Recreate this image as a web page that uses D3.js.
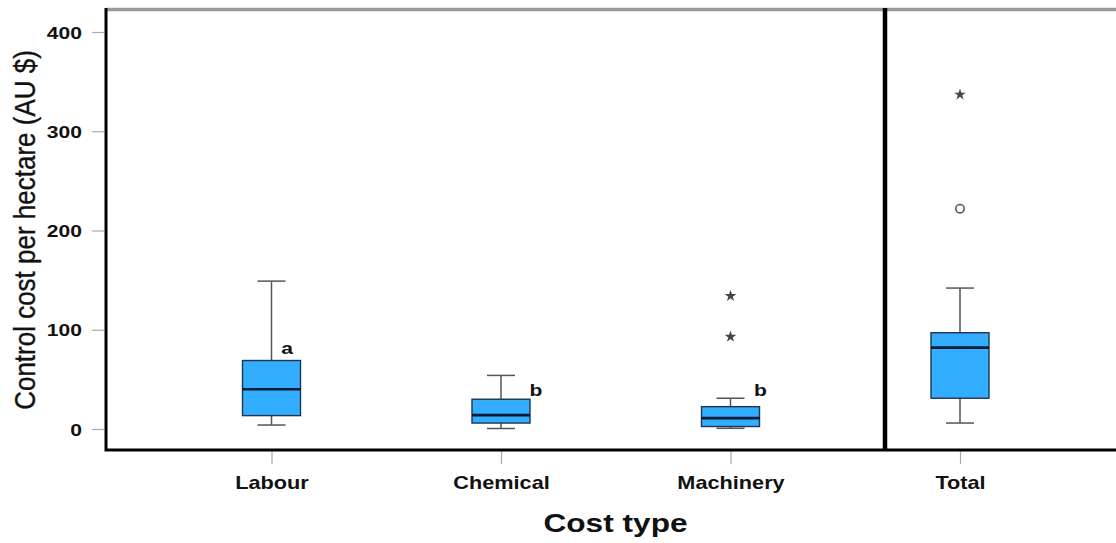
<!DOCTYPE html>
<html>
<head>
<meta charset="utf-8">
<script src="https://cdn.jsdelivr.net/npm/d3@7"></script>
<style>
  html, body { margin: 0; padding: 0; background: #fff; }
  svg { display: block; font-family: "Liberation Sans", Arial, sans-serif; }
</style>
</head>
<body>
<svg id="chart" width="1116" height="543"></svg>
<script>
// Cost categories and box-plot summaries (AU $ per hectare)
const categories = ["Labour", "Chemical", "Machinery", "Total"];
const whiskerLow  = [4, 0.5, 0.7, 6];
const quartile1   = [13.5, 6, 2.5, 31];
const medians     = [40, 14, 11, 82];
const quartile3   = [69, 30, 22.5, 97];
const whiskerHigh = [149, 54, 31, 142];
// points beyond 1.5 IQR (circles) and beyond 3 IQR (stars)
const outliers    = [[], [], [], [222]];
const extremes    = [[], [], [93, 134], [337]];
// significance letters (Total has none)
const groupLetters = ["a", "b", "b", ""];
const yTicks = [0, 100, 200, 300, 400];

const svg = d3.select("#chart");
const STRETCH = 1.24; // wide glyph proportions used for all text

const y = d3.scaleLinear().domain([0, 400]).range([429, 32]);
const x = d3.scalePoint().domain(categories).range([271.5, 960]);

const boxW = 58, capW = 28;
const plotTop = 9.5, plotBottom = 450, plotLeft = 106;

// frame: grey top border, black left and bottom axes, divider before Total
svg.append("line").attr("x1", plotLeft).attr("x2", 1116)
  .attr("y1", plotTop).attr("y2", plotTop)
  .attr("stroke", "#9a9a9a").attr("stroke-width", 3.5);

// y axis ticks and labels
const yAxis = svg.append("g").attr("transform", "translate(104,0)")
  .call(d3.axisLeft(y).tickValues(yTicks).tickSize(12).tickPadding(0));
yAxis.select(".domain").remove();
yAxis.selectAll(".tick line").attr("stroke", "#aaa").attr("stroke-width", 1.2);
yAxis.selectAll(".tick text")
  .attr("x", null).attr("dy", null)
  .attr("transform", `translate(-22,6) scale(${STRETCH},1)`)
  .attr("text-anchor", "end")
  .attr("font-size", 17).attr("font-weight", "bold").attr("fill", "#111");

// x axis ticks and labels
const xAxis = svg.append("g").attr("transform", `translate(0,${plotBottom + 1})`)
  .call(d3.axisBottom(x).tickSize(13).tickPadding(0));
xAxis.select(".domain").remove();
xAxis.selectAll(".tick line").attr("stroke", "#aaa").attr("stroke-width", 1.2);
xAxis.selectAll(".tick text")
  .attr("y", null).attr("dy", null)
  .attr("transform", `translate(0,38) scale(${STRETCH},1)`)
  .attr("text-anchor", "middle")
  .attr("font-size", 17.5).attr("font-weight", "bold").attr("fill", "#111");

// axis lines drawn over tick roots
svg.append("path")
  .attr("d", `M${plotLeft},${plotTop - 1.5}V${plotBottom}H1116`)
  .attr("fill", "none").attr("stroke", "#000").attr("stroke-width", 3);
svg.append("line")
  .attr("x1", 885).attr("x2", 885)
  .attr("y1", plotTop - 1.5).attr("y2", plotBottom)
  .attr("stroke", "#000").attr("stroke-width", 4.5);

// axis titles
svg.append("text")
  .attr("transform", "translate(35,230) rotate(-90) scale(1,1.12)")
  .attr("text-anchor", "middle")
  .attr("font-size", 26).attr("fill", "#111")
  .attr("stroke", "#111").attr("stroke-width", 0.3)
  .text("Control cost per hectare (AU $)");

svg.append("text")
  .attr("transform", `translate(615.5,532) scale(${STRETCH},1)`)
  .attr("text-anchor", "middle")
  .attr("font-size", 25.5).attr("font-weight", "bold").attr("fill", "#111")
  .text("Cost type");

// boxes
const boxes = svg.append("g").selectAll("g").data(categories).join("g")
  .attr("transform", d => `translate(${x(d)},0)`);

boxes.append("line")
  .attr("y1", (d, i) => y(whiskerHigh[i])).attr("y2", (d, i) => y(quartile3[i]))
  .attr("stroke", "#555").attr("stroke-width", 1.5);
boxes.append("line")
  .attr("y1", (d, i) => y(quartile1[i])).attr("y2", (d, i) => y(whiskerLow[i]))
  .attr("stroke", "#555").attr("stroke-width", 1.5);
boxes.append("line")
  .attr("x1", -capW / 2).attr("x2", capW / 2)
  .attr("y1", (d, i) => y(whiskerHigh[i])).attr("y2", (d, i) => y(whiskerHigh[i]))
  .attr("stroke", "#555").attr("stroke-width", 1.5);
boxes.append("line")
  .attr("x1", -capW / 2).attr("x2", capW / 2)
  .attr("y1", (d, i) => y(whiskerLow[i])).attr("y2", (d, i) => y(whiskerLow[i]))
  .attr("stroke", "#555").attr("stroke-width", 1.5);

boxes.append("rect")
  .attr("x", -boxW / 2).attr("width", boxW)
  .attr("y", (d, i) => y(quartile3[i]))
  .attr("height", (d, i) => y(quartile1[i]) - y(quartile3[i]))
  .attr("fill", "#33adff").attr("stroke", "#1f3550").attr("stroke-width", 1.4);

boxes.append("line")
  .attr("x1", -boxW / 2).attr("x2", boxW / 2)
  .attr("y1", (d, i) => y(medians[i])).attr("y2", (d, i) => y(medians[i]))
  .attr("stroke", "#0b1b30").attr("stroke-width", 2.6);

// outliers (open circles) and extremes (stars)
boxes.selectAll("circle").data((d, i) => outliers[i]).join("circle")
  .attr("cy", v => y(v)).attr("r", 4.2)
  .attr("fill", "#fff").attr("stroke", "#555").attr("stroke-width", 1.6);

const star = d3.symbol().type(d3.symbolStar).size(42);
boxes.selectAll("path.extreme").data((d, i) => extremes[i]).join("path")
  .attr("class", "extreme")
  .attr("transform", v => `translate(0,${y(v)})`)
  .attr("d", star).attr("fill", "#444");

// significance letters beside each box
const letterOffset = [{dx: 15.5, v: 76}, {dx: 35, v: 33}, {dx: 30, v: 33}, {dx: 0, v: 0}];
boxes.filter((d, i) => groupLetters[i] !== "").append("text")
  .attr("transform", (d, i) => `translate(${letterOffset[i].dx},${y(letterOffset[i].v)}) scale(${STRETCH},1)`)
  .attr("text-anchor", "middle")
  .attr("font-size", 17).attr("font-weight", "bold").attr("fill", "#111")
  .text((d, i) => groupLetters[i]);
</script>
</body>
</html>
